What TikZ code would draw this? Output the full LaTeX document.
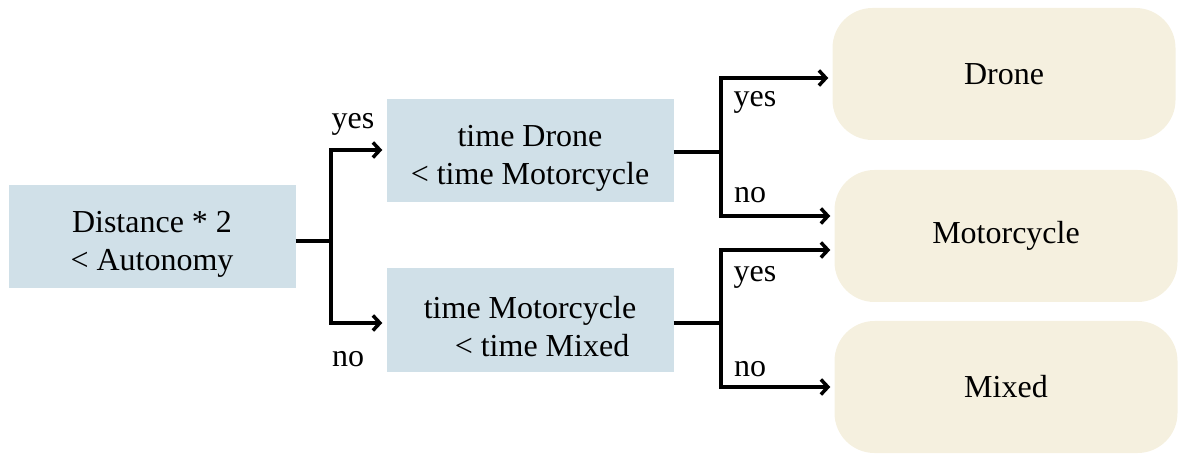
\documentclass[tikz,border=0pt]{standalone}
\usepackage{fontspec}
\setmainfont{Liberation Serif}
\usepackage{tikz}
\usetikzlibrary{arrows.meta,positioning,calc}
\definecolor{dtCond}{HTML}{D0E0E8}
\definecolor{dtLeaf}{HTML}{F5F0DF}
\definecolor{dtInk}{HTML}{000000}
\tikzset{
  condbox/.style={rectangle,inner sep=0pt,
    minimum width=287pt,minimum height=103pt,
    align=center,fill=dtCond,text height=73pt,
    font=\fontsize{32}{38}\selectfont,text=dtInk},
  leafbox/.style={rectangle,rounded corners=40pt,inner sep=0pt,
    minimum width=343pt,minimum height=132pt,
    align=center,fill=dtLeaf,
    font=\fontsize{32}{38}\selectfont,text=dtInk},
  lnk/.style={line width=3.5pt,color=dtInk},
  arr/.style={lnk,-{Straight Barb[length=7pt,width=15pt,line width=3.5pt]},
    shorten >=4pt},
  lbl/.style={font=\fontsize{32}{38}\selectfont,text=dtInk,inner sep=0pt},
}
\begin{document}
\begin{tikzpicture}[x=1pt,y=-1pt]
  \useasboundingbox (0,0) rectangle (1181,454);

  \node[condbox] (root) at (152,237) {Distance * 2\\< Autonomy};
  \node[condbox] (tdr) at (530,151) {time Drone\\< time Motorcycle};
  \node[condbox] (tmo) at (530,320) {time Motorcycle\\\ \ \ < time Mixed};

  % leaves
  \node[leafbox] (drone) at (1004,74) {Drone};
  \node[leafbox] (moto) at (1006,236) {Motorcycle};
  \node[leafbox] (mixed) at (1006,387) {Mixed};

  \coordinate (j1) at (331,241);
  \coordinate (j2) at (721,152);
  \coordinate (j3) at (721,323);

  \draw[lnk] (root.east |- j1) -- (j1);
  \draw[arr] (j1) |- ([yshift=1pt]tdr.west);
  \draw[arr] (j1) |- ([yshift=-3pt]tmo.west);
  \draw[lnk] (tdr.east |- j2) -- (j2);
  \draw[arr] (j2) |- ([yshift=-4pt]drone.west);
  \draw[arr] (j2) |- ([yshift=20pt]moto.west);
  \draw[lnk] (tmo.east |- j3) -- (j3);
  \draw[arr] (j3) |- ([yshift=-14pt]moto.west);
  \draw[arr] (j3) |- (mixed.west);

  \node[lbl] (yes1) at (353,124) {yes};
  \node[lbl] (no1) at (348,359) {no};
  \node[lbl] (yes2) at (755,102) {yes};
  \node[lbl] (no2) at (750,195) {no};
  \node[lbl] (yes3) at (755,277) {yes};
  \node[lbl] (no3) at (750,369) {no};
\end{tikzpicture}
\end{document}
